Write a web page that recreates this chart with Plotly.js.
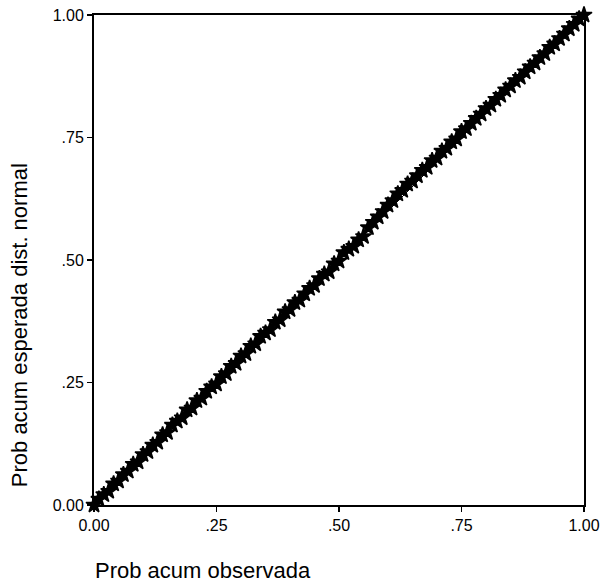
<!DOCTYPE html>
<html>
<head>
<meta charset="utf-8">
<script src="https://cdn.plot.ly/plotly-3.0.1.min.js"></script>
<style>html,body{margin:0;padding:0;background:#fff;}#chart{width:604px;height:588px;}</style>
</head>
<body>
<div id="chart"></div>
<script>
const observed = [0.00,0.01,0.02,0.03,0.04,0.05,0.06,0.07,0.08,0.09,
0.10,0.11,0.12,0.13,0.14,0.15,0.16,0.17,0.18,0.19,
0.20,0.21,0.22,0.23,0.24,0.25,0.26,0.27,0.28,0.29,
0.30,0.31,0.32,0.33,0.34,0.35,0.36,0.37,0.38,0.39,
0.40,0.41,0.42,0.43,0.44,0.45,0.46,0.47,0.48,0.49,
0.50,0.51,0.52,0.53,0.54,0.55,0.56,0.57,0.58,0.59,
0.60,0.61,0.62,0.63,0.64,0.65,0.66,0.67,0.68,0.69,
0.70,0.71,0.72,0.73,0.74,0.75,0.76,0.77,0.78,0.79,
0.80,0.81,0.82,0.83,0.84,0.85,0.86,0.87,0.88,0.89,
0.90,0.91,0.92,0.93,0.94,0.95,0.96,0.97,0.98,0.99,1.00];
const expected = [0.000,0.012,0.021,0.028,0.043,0.049,0.062,0.069,0.083,0.088,
0.103,0.109,0.122,0.128,0.143,0.148,0.163,0.171,0.178,0.194,
0.198,0.213,0.218,0.232,0.241,0.247,0.262,0.268,0.283,0.289,
0.304,0.309,0.324,0.329,0.344,0.351,0.358,0.373,0.378,0.394,
0.399,0.413,0.418,0.431,0.442,0.448,0.462,0.471,0.476,0.492,
0.498,0.515,0.522,0.528,0.541,0.548,0.566,0.577,0.588,0.599,
0.612,0.621,0.635,0.642,0.655,0.661,0.672,0.683,0.689,0.703,
0.708,0.722,0.728,0.741,0.747,0.762,0.768,0.779,0.789,0.798,
0.809,0.816,0.828,0.836,0.847,0.855,0.866,0.873,0.884,0.894,
0.902,0.913,0.921,0.934,0.941,0.952,0.961,0.972,0.981,0.992,1.000];
const refLineX = [0, 1];
const refLineY = [0, 1];
const tickVals = [0, 0.25, 0.5, 0.75, 1];
const tickText = ["0.00", ".25", ".50", ".75", "1.00"];

const font = "Liberation Sans, Arial, sans-serif";
const traces = [
  {x: refLineX, y: refLineY, mode: 'lines', type: 'scatter',
   line: {color: '#000', width: 1}, hoverinfo: 'skip', cliponaxis: false},
  {x: observed, y: expected, mode: 'markers', type: 'scatter',
   marker: {symbol: 'star', size: 12, color: '#000', line: {color: '#000', width: 1.5}},
   cliponaxis: false}
];
const axisCommon = {
  range: [0, 1], tickvals: tickVals, ticktext: tickText,
  ticks: 'outside', ticklen: 5, tickwidth: 1.5, tickcolor: '#000',
  showgrid: false, zeroline: false, showline: true, linecolor: '#000', linewidth: 2,
  mirror: true, tickfont: {family: font, size: 16, color: '#000'}, fixedrange: true
};
const layout = {
  width: 604, height: 588,
  margin: {l: 94, r: 20, t: 15, b: 83},
  paper_bgcolor: '#fff', plot_bgcolor: '#fff',
  showlegend: false,
  xaxis: Object.assign({}, axisCommon),
  yaxis: Object.assign({}, axisCommon),
  annotations: [
    {text: 'Prob acum observada', xref: 'paper', yref: 'paper', x: -0.002, y: -0.134,
     xanchor: 'left', yanchor: 'middle', showarrow: false,
     font: {family: font, size: 22, color: '#000'}},
    {text: 'Prob acum esperada dist. normal', xref: 'paper', yref: 'paper', x: -0.153, y: 0.367,
     xanchor: 'center', yanchor: 'middle', textangle: -90, showarrow: false,
     font: {family: font, size: 22, color: '#000'}}
  ]
};
Plotly.newPlot('chart', traces, layout, {displayModeBar: false, staticPlot: true});
</script>
</body>
</html>
